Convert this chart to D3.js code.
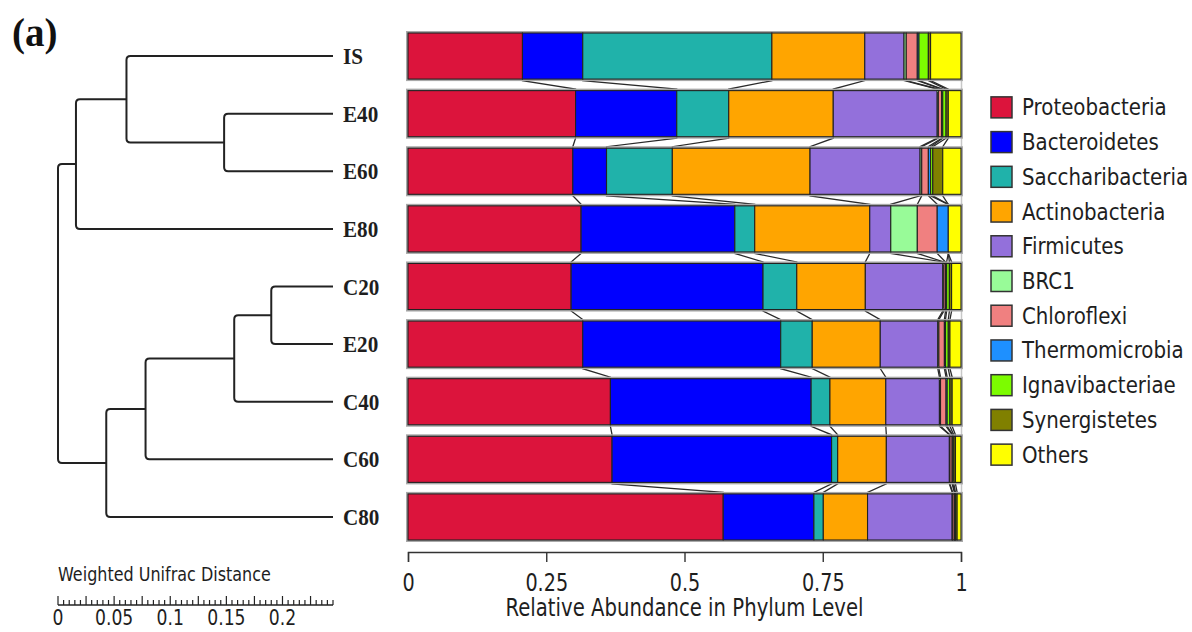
<!DOCTYPE html>
<html>
<head>
<meta charset="utf-8">
<script src="https://cdn.jsdelivr.net/npm/d3@7"></script>
<style>
  html, body { margin: 0; padding: 0; background: #fff; }
  svg { display: block; }
</style>
</head>
<body>
<svg id="chart" width="1192" height="632"></svg>
<script>
// Samples, top to bottom (dendrogram leaf order)
const samples = ["IS", "E40", "E60", "E80", "C20", "E20", "C40", "C60", "C80"];

// Phyla, stacked left to right
const phyla = ["Proteobacteria", "Bacteroidetes", "Saccharibacteria", "Actinobacteria",
  "Firmicutes", "BRC1", "Chloroflexi", "Thermomicrobia", "Ignavibacteriae",
  "Synergistetes", "Others"];
const phylumColors = ["#DC143C", "#0000FF", "#20B2AA", "#FFA500", "#9370DB", "#98FB98",
  "#F08080", "#1E90FF", "#7CFC00", "#808000", "#FFFF00"];

// Relative abundance of each phylum (same order as phyla) per sample
const abundIS  = [0.207, 0.109, 0.342, 0.168, 0.071, 0.004, 0.020, 0.003, 0.017, 0.004, 0.055];
const abundE40 = [0.303, 0.183, 0.094, 0.189, 0.188, 0.002, 0.006, 0.002, 0.006, 0.004, 0.023];
const abundE60 = [0.298, 0.061, 0.119, 0.249, 0.199, 0.003, 0.012, 0.004, 0.004, 0.018, 0.033];
const abundE80 = [0.313, 0.278, 0.036, 0.208, 0.038, 0.048, 0.036, 0.020, 0.000, 0.000, 0.023];
const abundC20 = [0.295, 0.347, 0.061, 0.124, 0.140, 0.002, 0.003, 0.002, 0.005, 0.004, 0.017];
const abundE20 = [0.316, 0.358, 0.057, 0.123, 0.104, 0.002, 0.010, 0.002, 0.005, 0.003, 0.020];
const abundC40 = [0.366, 0.363, 0.034, 0.101, 0.097, 0.002, 0.010, 0.002, 0.005, 0.004, 0.016];
const abundC60 = [0.369, 0.397, 0.011, 0.088, 0.114, 0.001, 0.004, 0.001, 0.002, 0.003, 0.010];
const abundC80 = [0.570, 0.164, 0.017, 0.080, 0.153, 0.001, 0.003, 0.001, 0.001, 0.003, 0.007];
const abundance = [abundIS, abundE40, abundE60, abundE80, abundC20, abundE20, abundC40, abundC60, abundC80];

// Axis ticks
const abundTicks = [0, 0.25, 0.5, 0.75, 1];
const distTickLabels = [0, 0.05, 0.1, 0.15, 0.2];

// UPGMA tree on weighted UniFrac distance: internal nodes, their two children,
// and their position measured from the root
const nodeIds      = ["n1", "n2", "n3", "n4", "n5", "n6", "n7", "root"];
const nodeChildren = [["E40", "E60"], ["IS", "n1"], ["n2", "E80"], ["C20", "E20"],
                      ["n4", "C40"], ["n5", "C60"], ["n6", "C80"], ["n3", "n7"]];
const nodeDist     = [0.148, 0.061, 0.016, 0.190, 0.157, 0.078, 0.043, 0.0];
const leafDist = 0.245;

const SANS = "'DejaVu Sans', 'Lucida Grande', sans-serif";
const SERIF = "'Liberation Serif', 'Times New Roman', serif";

const svg = d3.select("#chart");

// text squeezed horizontally around its anchor point
function narrowText(parent, x, y, str, size, sx, anchor, family, weight) {
  return parent.append("text")
    .attr("transform", `translate(${x},${y}) scale(${sx},1)`)
    .attr("text-anchor", anchor || "start")
    .attr("font-family", family || SANS)
    .attr("font-weight", weight || "normal")
    .attr("font-size", size)
    .attr("fill", "#1e1e1e")
    .text(str);
}

// ---------- scales ----------
const x = d3.scaleLinear().domain([0, 1]).range([408, 961]);
const y = d3.scaleBand().domain(samples).range([33, 540]).paddingInner(0.2).paddingOuter(0);
const dx = d3.scaleLinear().domain([0, leafDist]).range([58, 333]);
const color = d3.scaleOrdinal().domain(phyla).range(phylumColors);

// ---------- stacked data ----------
const rows = samples.map((s, i) => {
  let acc = 0;
  const segs = phyla.map((p, j) => {
    const v = abundance[i][j];
    const seg = { sample: s, phylum: p, x0: acc, x1: acc + v };
    acc += v;
    return seg;
  });
  return { sample: s, segs };
});

// ---------- panel label ----------
svg.append("text")
  .attr("x", 12).attr("y", 46)
  .attr("font-family", SERIF)
  .attr("font-weight", "bold").attr("font-size", 39)
  .attr("fill", "#111")
  .text("(a)");

// ---------- connectors between adjacent bars ----------
const linkG = svg.append("g")
  .attr("fill", "none").attr("stroke", "#2a2a2a").attr("stroke-width", 1.3);
for (let i = 0; i < rows.length - 1; i++) {
  const a = rows[i], b = rows[i + 1];
  const yb = y(a.sample) + y.bandwidth();
  const yt = y(b.sample);
  for (let j = 0; j < phyla.length - 1; j++) {
    const xa = x(a.segs[j].x1), xb = x(b.segs[j].x1);
    linkG.append("path")
      .attr("d", `M${xa},${yb}L${xa},${yb + 1.5}L${xb},${yt - 1.5}L${xb},${yt}`);
  }
}

// right frame edge
svg.append("line")
  .attr("x1", x(1) + 0.5).attr("x2", x(1) + 0.5)
  .attr("y1", y(samples[0])).attr("y2", y(samples[samples.length - 1]) + y.bandwidth())
  .attr("stroke", "#c8c8c8").attr("stroke-width", 1.5);

// ---------- bars ----------
const barG = svg.append("g");
rows.forEach(r => {
  const g = barG.append("g");
  // soft outline around each bar
  g.append("rect")
    .attr("x", x(0) - 1).attr("y", y(r.sample) - 1)
    .attr("width", x(1) - x(0) + 2).attr("height", y.bandwidth() + 2)
    .attr("fill", "none").attr("stroke", "#a9a9a9").attr("stroke-width", 2);
  g.selectAll("rect.seg")
    .data(r.segs.filter(d => d.x1 - d.x0 > 0))
    .join("rect")
    .attr("class", "seg")
    .attr("x", d => x(d.x0))
    .attr("y", y(r.sample))
    .attr("width", d => x(d.x1) - x(d.x0))
    .attr("height", y.bandwidth())
    .attr("fill", d => color(d.phylum))
    .attr("stroke", "#222")
    .attr("stroke-width", 1.1);
});

// ---------- abundance axis ----------
const axisY = 552;
const axisG = svg.append("g")
  .attr("transform", `translate(0,${axisY})`)
  .call(d3.axisBottom(x).tickValues(abundTicks).tickFormat(d3.format("~g"))
    .tickSize(10).tickSizeOuter(10));
axisG.select(".domain").attr("stroke", "#333").attr("stroke-width", 1.4);
axisG.selectAll(".tick line").attr("stroke", "#333").attr("stroke-width", 1.4);
axisG.selectAll(".tick text")
  .attr("y", 39).attr("dy", 0)
  .attr("transform", "scale(0.8,1)")
  .attr("font-family", SANS).attr("font-size", 24).attr("fill", "#1e1e1e");

narrowText(svg, (x(0) + x(1)) / 2, 616, "Relative Abundance in Phylum Level", 24, 0.82, "middle");

// ---------- legend ----------
const legendY = d3.scaleBand().domain(phyla).range([90, 472]).paddingInner(0);
const legG = svg.append("g");
phyla.forEach(p => {
  const cy = legendY(p) + legendY.bandwidth() / 2;
  legG.append("rect")
    .attr("x", 991).attr("y", cy - 10.5).attr("width", 21).attr("height", 21)
    .attr("fill", color(p)).attr("stroke", "#333").attr("stroke-width", 1.5);
  narrowText(legG, 1022, cy + 8, p, 22.5, 0.88, "start");
});

// ---------- dendrogram ----------
const pos = {};
samples.forEach(s => { pos[s] = { x: dx(leafDist), y: y(s) + y.bandwidth() / 2 }; });
nodeIds.forEach((id, i) => {
  const [a, b] = nodeChildren[i];
  pos[id] = { x: dx(nodeDist[i]), y: (pos[a].y + pos[b].y) / 2 };
});

const treeG = svg.append("g")
  .attr("fill", "none").attr("stroke", "#222").attr("stroke-width", 2)
  .attr("stroke-linejoin", "round");
const r = 4;
nodeIds.forEach((id, i) => {
  const n = pos[id];
  const [a, b] = nodeChildren[i].map(c => pos[c]);
  const top = a.y < b.y ? a : b, bot = a.y < b.y ? b : a;
  treeG.append("path").attr("d",
    `M${top.x},${top.y}H${n.x + r}Q${n.x},${top.y} ${n.x},${top.y + r}` +
    `V${bot.y - r}Q${n.x},${bot.y} ${n.x + r},${bot.y}H${bot.x}`);
});

// leaf labels
const leafG = svg.append("g");
samples.forEach(s => {
  narrowText(leafG, dx(leafDist) + 10, pos[s].y + 8, s, 23, 0.92, "start", SERIF, "bold");
});

// ---------- distance scale bar ----------
narrowText(svg, 58, 581, "Weighted Unifrac Distance", 19.5, 0.82, "start");

const sbY = 605;
const sb = svg.append("g").attr("stroke", "#222").attr("stroke-width", 1.2);
sb.append("line").attr("x1", dx(0)).attr("x2", dx(leafDist)).attr("y1", sbY).attr("y2", sbY)
  .attr("stroke-width", 1.6);
d3.range(0, 50).forEach(k => {
  const v = k * 0.005;
  if (v > leafDist) return;
  const major = k % 5 === 0;
  sb.append("line")
    .attr("x1", dx(v)).attr("x2", dx(v))
    .attr("y1", sbY).attr("y2", sbY - (major ? 9 : 5));
});
const sbLab = svg.append("g");
distTickLabels.forEach(d => {
  narrowText(sbLab, dx(d), 625, d3.format("~g")(d), 21, 0.82, "middle");
});
</script>
</body>
</html>
